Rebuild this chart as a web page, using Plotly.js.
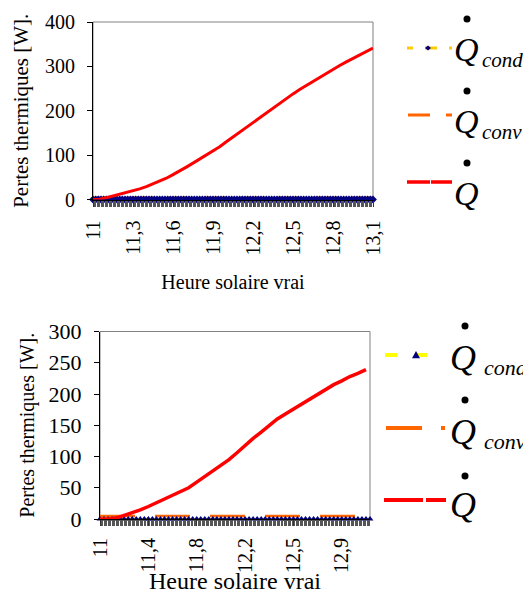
<!DOCTYPE html>
<html>
<head>
<meta charset="utf-8">
<script src="https://cdn.plot.ly/plotly-3.0.1.min.js"></script>
</head>
<body style="margin:0;background:#fff">
<div id="chart"></div>
<script>
const topTime = [11.00,11.05,11.10,11.15,11.20,11.25,11.30,11.35,11.40,11.45,11.50,11.55,11.60,11.65,11.70,11.75,11.80,11.85,11.90,11.95,12.00,12.05,12.10,12.15,12.20,12.25,12.30,12.35,12.40,12.45,12.50,12.55,12.60,12.65,12.70,12.75,12.80,12.85,12.90,12.95,13.00,13.05,13.10];
const topQ = [0,0.5,4,8,11,15,19,24,29,35,41,48,56,64,73,82,91,100,109,119,130,141,151,161,172,183,195,206,217,228,238,248,257,266,275,285,294,302,310,318,326,334,341];
const topCondTime = [
  11.00,11.02,11.04,11.06,11.08,11.10,11.12,11.14,11.16,11.18,11.20,11.22,11.24,11.26,11.28,11.30,11.32,11.34,11.36,11.38,
  11.40,11.42,11.44,11.46,11.48,11.50,11.52,11.54,11.56,11.58,11.60,11.62,11.64,11.66,11.68,11.70,11.72,11.74,11.76,11.78,
  11.80,11.82,11.84,11.86,11.88,11.90,11.92,11.94,11.96,11.98,12.00,12.02,12.04,12.06,12.08,12.10,12.12,12.14,12.16,12.18,
  12.20,12.22,12.24,12.26,12.28,12.30,12.32,12.34,12.36,12.38,12.40,12.42,12.44,12.46,12.48,12.50,12.52,12.54,12.56,12.58,
  12.60,12.62,12.64,12.66,12.68,12.70,12.72,12.74,12.76,12.78,12.80,12.82,12.84,12.86,12.88,12.90,12.92,12.94,12.96,12.98,
  13.00,13.02,13.04,13.06,13.08,13.10];
const topCond = [
  0,0,0,0,0,0,0,0,0,0,0,0,0,0,0,0,0,0,0,0,
  0,0,0,0,0,0,0,0,0,0,0,0,0,0,0,0,0,0,0,0,
  0,0,0,0,0,0,0,0,0,0,0,0,0,0,0,0,0,0,0,0,
  0,0,0,0,0,0,0,0,0,0,0,0,0,0,0,0,0,0,0,0,
  0,0,0,0,0,0,0,0,0,0,0,0,0,0,0,0,0,0,0,0,
  0,0,0,0,0,0];
const topConvTime = [11.0,11.3,11.6,11.9,12.2,12.5,12.8,13.1];
const topConv = [4,4,4,4,4,4,4,4];
const topTickVals = [11.0,11.3,11.6,11.9,12.2,12.5,12.8,13.1];
const topTickText = ['11','11,3','11,6','11,9','12,2','12,5','12,8','13,1'];

const botIdx = [0,2,4,6,8,10,12,14,16,18,20,22,24,26,28,30,32,34,36,38,40,42,44,46,48,50,52,54,56,58,60,62,64,66];
const botQ = [0,0,1.5,5.5,9.5,14.5,20,26,31,37,43,50,59,68,77,86,95,106,118,129,139,150,160,168,176,184,191.5,199,207,215,221,228,233,239];
const botCondIdx = [
  0,1,2,3,4,5,6,7,8,9,10,11,12,13,14,15,16,17,18,19,20,21,22,23,24,25,26,27,28,29,30,31,32,33,
  34,35,36,37,38,39,40,41,42,43,44,45,46,47,48,49,50,51,52,53,54,55,56,57,58,59,60,61,62,63,64,65,66,67];
const botCond = [
  0,0,0,0,0,0,0,0,0,0,0,0,0,0,0,0,0,0,0,0,0,0,0,0,0,0,0,0,0,0,0,0,0,0,
  0,0,0,0,0,0,0,0,0,0,0,0,0,0,0,0,0,0,0,0,0,0,0,0,0,0,0,0,0,0,0,0,0,0];
const botConvIdx = [0,12,24,36,48,60,67];
const botConv = [5,5,5,5,5,5,5];
const botTickVals = [0,12,24,36,48,60];
const botTickText = ['11','11,4','11,8','12,2','12,5','12,9'];

const legendSubs = ['cond','conv'];

const FONT = 'Liberation Serif';
const W = 523, H = 594;
const px = x => x / W;
const py = y => 1 - y / H;

const traces = [
  {x: topConvTime, y: topConv, xaxis:'x', yaxis:'y', mode:'lines', line:{color:'#FF6600', width:2.5, dash:'23px,14px'}, showlegend:false, hoverinfo:'skip'},
  {x: topCondTime, y: topCond, xaxis:'x', yaxis:'y', mode:'lines+markers', line:{color:'#FFCC00', width:2}, marker:{symbol:'diamond', size:6, color:'#000080'}, showlegend:false, cliponaxis:false},
  {x: topTime, y: topQ, xaxis:'x', yaxis:'y', mode:'lines', line:{color:'#FF0000', width:3}, showlegend:false},
  {x: botConvIdx, y: botConv, xaxis:'x2', yaxis:'y2', mode:'lines', line:{color:'#FF6600', width:2.5, dash:'35px,20px'}, showlegend:false, hoverinfo:'skip'},
  {x: botCondIdx, y: botCond, xaxis:'x2', yaxis:'y2', mode:'lines+markers', line:{color:'#FFFF00', width:2}, marker:{symbol:'triangle-up', size:6, color:'#000080'}, showlegend:false, cliponaxis:false},
  {x: botIdx, y: botQ, xaxis:'x2', yaxis:'y2', mode:'lines', line:{color:'#FF0000', width:3.5}, showlegend:false}
];

function legLine(x0, x1, y, color, width, dash) {
  return {type:'line', xref:'paper', yref:'paper', x0:px(x0), x1:px(x1), y0:py(y), y1:py(y), line:{color:color, width:width, dash:dash}};
}
function marker(cx, cy, r, kind) {
  const p = kind === 'tri'
    ? `M${px(cx-r)},${py(cy+r*0.8)} L${px(cx)},${py(cy-r)} L${px(cx+r)},${py(cy+r*0.8)} Z`
    : `M${px(cx-r)},${py(cy)} L${px(cx)},${py(cy-r*0.8)} L${px(cx+r)},${py(cy)} L${px(cx)},${py(cy+r*0.8)} Z`;
  return {type:'path', xref:'paper', yref:'paper', fillcolor:'#000080', line:{width:0}, path:p};
}
function dot(cx, cy, r) {
  return {type:'circle', xref:'paper', yref:'paper', x0:px(cx-r), x1:px(cx+r), y0:py(cy+r), y1:py(cy-r), fillcolor:'#000', line:{width:0}};
}

const shapes = [
  {type:'rect', xref:'x domain', yref:'y domain', x0:0, x1:1, y0:0, y1:1, line:{color:'#808080', width:1}, layer:'below'},
  {type:'rect', xref:'x2 domain', yref:'y2 domain', x0:0, x1:1, y0:0, y1:1, line:{color:'#808080', width:1}, layer:'below'},
  legLine(407, 452, 48, '#FFCC00', 3, '6px,12px,12px,12px'),
  marker(428, 48, 3, 'dia'),
  legLine(408, 452, 115, '#FF6600', 3, '22px,16px'),
  legLine(407, 452, 182, '#FF0000', 3.5, '23px,1px'),
  legLine(385, 427, 355, '#FFFF00', 4, '12px,20px,10px,20px'),
  marker(416, 355, 4, 'tri'),
  legLine(386, 445, 428, '#FF6600', 4, '36px,19px'),
  legLine(384, 446, 500, '#FF0000', 4, '39px,3px'),
  dot(467, 19, 3.5), dot(467, 91, 3.5), dot(467, 163, 3.5),
  dot(465, 326, 3.5), dot(465, 400, 3.5), dot(465, 476, 3.5)
];

const annotations = [];
function legendText(qx, qYs, subX, subYs, qSize, subSize) {
  qYs.forEach(y => annotations.push({xref:'paper', yref:'paper', x:px(qx), y:py(y), text:'<i>Q</i>', showarrow:false, xanchor:'center', yanchor:'middle', font:{family:FONT, size:qSize, color:'#000'}}));
  subYs.forEach((y, i) => annotations.push({xref:'paper', yref:'paper', x:px(subX), y:py(y), text:'<i>' + legendSubs[i] + '</i>', showarrow:false, xanchor:'left', yanchor:'middle', font:{family:FONT, size:subSize, color:'#000'}}));
}
legendText(466, [49, 121, 193], 480, [60, 132], 34, 21);
legendText(463, [358, 432, 505], 482, [367, 441], 36, 22);

const layout = {
  width: W, height: H,
  margin: {l:0, r:0, t:0, b:0},
  paper_bgcolor:'#ffffff', plot_bgcolor:'#ffffff',
  showlegend:false,
  font:{family:FONT, color:'#000', size:20},
  xaxis: {
    domain:[px(93), px(373)], anchor:'y', range:[11, 13.1],
    tickmode:'array', tickvals: topTickVals, ticktext: topTickText, tickangle:-90,
    ticks:'outside', ticklen:6, tickcolor:'#333', tickwidth:1,
    minor:{tickmode:'linear', tick0:11, dtick:0.01, ticks:'outside', ticklen:6, tickcolor:'#555', tickwidth:1, showgrid:false},
    showline:true, linecolor:'#000', linewidth:1, showgrid:false, zeroline:false,
    tickfont:{family:FONT, size:20, color:'#000'}, ticklabelstandoff:6,
    title:{text:'Heure solaire vrai', font:{family:FONT, size:20, color:'#000'}, standoff:20}
  },
  yaxis: {
    domain:[py(199.5), py(22)], anchor:'x', range:[0, 400], dtick:100,
    ticks:'outside', ticklen:5, tickcolor:'#000',
    showline:true, linecolor:'#000', linewidth:1, showgrid:false, zeroline:false,
    tickfont:{family:FONT, size:20, color:'#000'}, ticklabelstandoff:8,
    title:{text:'Pertes thermiques [W].', font:{family:FONT, size:21, color:'#000'}, standoff:10}
  },
  xaxis2: {
    domain:[px(100), px(370)], anchor:'y2', range:[0, 67],
    tickmode:'array', tickvals: botTickVals, ticktext: botTickText, tickangle:-90,
    ticks:'outside', ticklen:6, tickcolor:'#333', tickwidth:1,
    minor:{tickmode:'linear', tick0:0, dtick:0.3333, ticks:'outside', ticklen:6, tickcolor:'#555', tickwidth:1, showgrid:false},
    showline:true, linecolor:'#000', linewidth:1, showgrid:false, zeroline:false,
    tickfont:{family:FONT, size:20, color:'#000'}, ticklabelstandoff:4,
    title:{text:'Heure solaire vrai', font:{family:FONT, size:24, color:'#000'}, standoff:2}
  },
  yaxis2: {
    domain:[py(519), py(331.5)], anchor:'x2', range:[0, 300], dtick:50,
    ticks:'outside', ticklen:5, tickcolor:'#000',
    showline:true, linecolor:'#000', linewidth:1, showgrid:false, zeroline:false,
    tickfont:{family:FONT, size:22, color:'#000'}, ticklabelstandoff:8,
    title:{text:'Pertes thermiques [W].', font:{family:FONT, size:20, color:'#000'}, standoff:8}
  },
  shapes: shapes,
  annotations: annotations
};

Plotly.newPlot('chart', traces, layout, {displayModeBar:false});
</script>
</body>
</html>
